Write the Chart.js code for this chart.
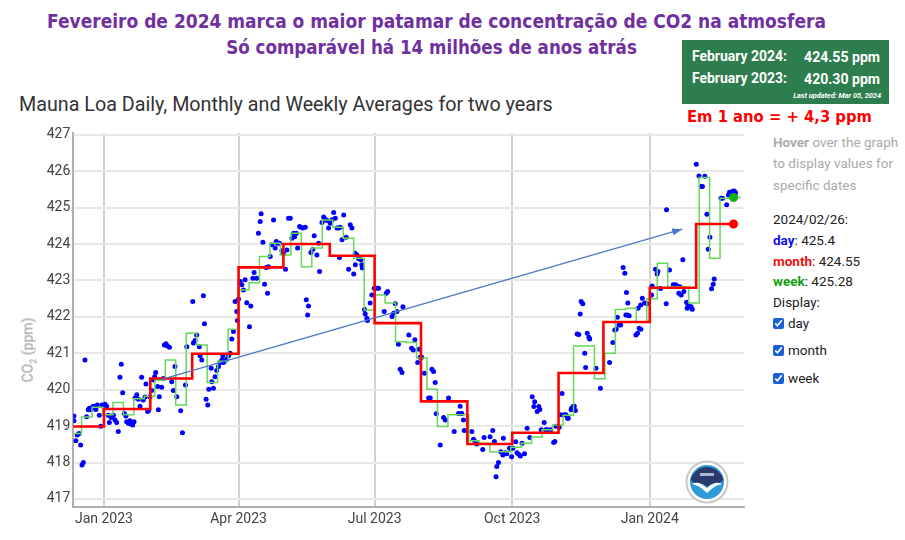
<!DOCTYPE html>
<html>
<head>
<meta charset="utf-8">
<script src="https://cdn.jsdelivr.net/npm/chart.js@4.4.1/dist/chart.umd.min.js"></script>
<style>
  body { margin: 0; width: 905px; height: 540px; background: #fff; position: relative; overflow: hidden; font-family: Roboto, sans-serif; }
  .t { position: absolute; white-space: nowrap; line-height: 1; }
  .title { color: #7030a0; font-weight: bold; font-family: "Liberation Sans Narrow", "DejaVu Sans Condensed", "Open Sans", sans-serif; font-size: 20px; }
  #box { position: absolute; left: 682px; top: 40px; width: 207px; height: 64px; background: #2e7d4e; }
  .boxtxt { color: #fff; font-weight: bold; font-family: "Liberation Sans Narrow", Roboto, sans-serif; font-size: 15px; }
  .panel { position: absolute; left: 773px; white-space: nowrap; font-size: 13.5px; color: #222; line-height: 1; }
  .panel.hint { color: #aaa; }
  .panel input { margin: 0 4px 0 0; width: 11px; height: 11px; accent-color: #1a5fd6; vertical-align: -1px; }
  #chart { position: absolute; left: 0; top: 120px; }
  #ylab { position: absolute; left: 29px; top: 350px; transform: translate(-50%, -50%) rotate(-90deg); color: #999; font-size: 14px; white-space: nowrap; }
  #noaa { position: absolute; left: 685px; top: 460px; }
</style>
</head>
<body>
<div class="t title" id="t1">Fevereiro de 2024 marca o maior patamar de concentração de CO2 na atmosfera</div>
<div class="t title" id="t2">Só comparável há 14 milhões de anos atrás</div>
<div class="t" id="sub" style="font-size:20px;color:#333;">Mauna Loa Daily, Monthly and Weekly Averages for two years</div>
<div id="box"></div>
<div class="t boxtxt" id="b1">February 2024:</div>
<div class="t boxtxt" id="b2">424.55 ppm</div>
<div class="t boxtxt" id="b3">February 2023:</div>
<div class="t boxtxt" id="b4">420.30 ppm</div>
<div class="t boxtxt" id="b5" style="font-style:italic;font-size:7px;">Last updated: Mar 05, 2024</div>
<div class="t title" id="red" style="color:#ff0000;">Em 1 ano = + 4,3 ppm</div>

<div class="panel hint" style="top:136px"><b>Hover</b> over the graph</div>
<div class="panel hint" style="top:157px">to display values for</div>
<div class="panel hint" style="top:179px">specific dates</div>
<div class="panel" style="top:213px">2024/02/26:</div>
<div class="panel" style="top:234px"><b style="color:#1010ee">day</b>: 425.4</div>
<div class="panel" style="top:255px"><b style="color:#ee1010">month</b>: 424.55</div>
<div class="panel" style="top:275px"><b style="color:#10a010">week</b>: 425.28</div>
<div class="panel" style="top:296px">Display:</div>
<div class="panel" style="top:317px"><input type="checkbox" checked>day</div>
<div class="panel" style="top:344px"><input type="checkbox" checked>month</div>
<div class="panel" style="top:372px"><input type="checkbox" checked>week</div>

<canvas id="chart" width="760" height="420"></canvas>
<div id="ylab">CO<sub style="font-size:9px">2</sub> (ppm)</div>

<svg id="noaa" width="44" height="44" viewBox="0 0 44 44">
  <circle cx="22" cy="22" r="20.5" fill="#fff" stroke="#c8c8c8" stroke-width="2"/>
  <circle cx="22" cy="22" r="17" fill="#2d9bd8"/>
  <path d="M5.5 20 A17 17 0 0 1 38.5 20 L32 25 Q27 21 22 27 Q17 21 12 25 Z" fill="#2a3a6c"/>
  <path d="M7 24 Q13 20 22 28 Q31 20 37 24 Q30 25 22 33 Q14 25 7 24 Z" fill="#fff"/>
  <rect x="15" y="13" width="14" height="3" fill="#cfd6e6" opacity="0.8"/>
</svg>

<script>
// Days are counted from 1 Jan 2023 (day 0)

// x axis ticks
const tickDays = [0, 90, 181, 273, 365];
const tickLabels = ['Jan 2023', 'Apr 2023', 'Jul 2023', 'Oct 2023', 'Jan 2024'];
const yTicks = [417, 418, 419, 420, 421, 422, 423, 424, 425, 426, 427];

// daily averages (blue dots)
const dailyDay = [
  -20.1, -20.1, -18.8, -17.9, -16.7, -15.6, -14.7, -13.8, -12.7, -11.6, -10.5, -9.8, -8.7, -7.8, -7.1, -6.3, -5.4, -4.5, -3.1, -2.2, -1.3,
  0.7, 1.8, 2.9, 3.6, 4.7, 5.6, 6.3, 7.4, 8.5, 9.6, 10.7, 11.6, 12.5, 13.6, 14.7, 15.2, 16.3, 17.4, 18.1, 19.2, 20.1, 20.8, 21.9, 23, 24.1,
  25.2, 26.3, 27.5, 28.1, 29.2, 29.9, 30.8, 31.9, 33, 33.9, 34.6, 35.9, 36.4, 37, 38.6, 39.7, 40.4, 41.5, 42.4, 43.8, 45.3, 46.4, 47.5, 48.7,
  51.3, 52.5, 54.5, 55.4, 59.4, 59.8, 60.9, 62, 63.8, 64.3, 65.4, 66.5, 67.2, 68.3, 69.4, 70.1, 71.7, 72.1, 73.2, 74.3, 75.4, 76.6, 77.7,
  78.8, 79.5, 79.9, 81, 82.1, 83.3, 84.4, 85.5, 86.6, 87.7, 88.8, 89.3, 90, 91.1, 92.2, 93.3, 94.4, 95.5, 97.3, 98.2, 99.6, 100.4, 102.2,
  103.3, 104.5, 105.1, 106.3, 107.4, 108.5, 109.4, 110, 111.2, 112.3, 113.4, 114.5, 115.2, 116.1, 117.4, 119, 120, 121.4, 122.3, 123.4,
  124.6, 125.7, 126.8, 127.5, 128.6, 129.5, 130.8, 131.7, 133, 134.6, 135.3, 136.2, 136.8, 138.4, 139.7, 140.6, 142.4, 143.5, 144.2, 145.8,
  146.9, 148, 149.1, 150.2, 151.3, 152.5, 153.6, 154.7, 155.8, 156.9, 157.5, 158, 159.2, 160.3, 162, 163.6, 164.7, 165.8, 167, 168, 168.1,
  169.2, 170.3, 171.8, 172.4, 172.8, 174.2, 174.7, 175.8, 176.2, 178, 179.1, 180.7, 182.5, 183.6, 187.4, 188.8, 189.7, 192.6, 193.7, 194.8,
  195.9, 196.9, 198.1, 199.3, 199.9, 203.9, 205.7, 206.9, 207.9, 209.8, 210.7, 211.4, 212.5, 214.3, 217.1, 218.2, 219.3, 220.4, 221.5,
  222.2, 224.9, 227.1, 228.2, 230.4, 234.2, 237.1, 238.2, 238.8, 239.3, 240.4, 240.9, 246, 247.1, 248.2, 249.3, 253.3, 254.2, 258.2, 260,
  261.1, 262.2, 262.7, 263.8, 265.4, 266.7, 267.1, 268.3, 269.4, 271.2, 272.1, 272.6, 273.4, 275.3, 276.2, 277.3, 278.5, 279.6, 281.2, 283,
  284.8, 286.4, 287.5, 288, 289.7, 290.8, 291.5, 292.4, 294.4, 295.5, 296.6, 298.8, 300.7, 301.5, 302.2, 304.4, 305.5, 306.3, 307.8, 308.9,
  310, 310.5, 312.4, 312.7, 313.7, 314.5, 315.3, 316.4, 317.5, 318.5, 319.1, 320.2, 321.5, 322.1, 323.2, 324.3, 324.8, 329, 332, 338.1,
  340.3, 341.6, 342.5, 343.3, 344.4, 345.5, 347.2, 348.3, 349, 349.4, 350.1, 350.3, 351.2, 355.7, 356.8, 357.2, 357.9, 358.9, 359, 360,
  361.5, 363.3, 366.2, 366.6, 368.8, 369.9, 370.4, 372.2, 376, 376.2, 378.2, 380.7, 382.2, 383.3, 384.4, 385.1, 386, 387.1, 387.8, 389.6,
  390, 390.5, 391.8, 392.7, 393.4, 396.1, 397.9, 399.5, 400.2, 401.8, 403.2, 404.1, 405.2, 406.3, 407.4, 408.1, 412.6, 413.7, 416.4,
  417.6, 418.3
];
const dailyPpm = [
  419.28, 419.15, 418.6, 418.76, 418.8, 418.48, 417.93, 418.0, 420.82, 419.26, 419.45, 419.49, 419.45, 419.52, 419.55, 419.54, 419.46, 419.58, 419.3, 419.0, 419.58,
  419.6, 419.55, 419.3, 419.1, 419.24, 419.26, 419.3, 419.17, 419.1, 418.85, 420.34, 420.7, 419.92, 419.35, 419.28, 419.12, 419.08, 419.15, 419.06, 419.03, 419.12, 419.77, 419.86, 419.74, 419.55,
  420.34, 419.72, 419.8, 420.16, 419.4, 419.43, 419.81, 419.98, 420.27, 420.36, 420.47, 420.09, 419.45, 419.81, 420.07, 420.31, 421.23, 421.26, 421.2, 421.17, 420.22, 419.98, 420.64, 419.81,
  419.42, 418.82, 420.13, 421.18, 422.42, 421.28, 421.35, 421.5, 421.18, 420.93, 420.82, 422.58, 421.81, 419.74, 419.58, 420.01, 420.59, 420.22, 420.04, 420.36, 420.53, 420.64, 420.75,
  420.82, 420.93, 420.75, 420.8, 420.84, 420.93, 421.0, 421.39, 421.6, 422.42, 422.15, 421.9, 422.49, 422.97, 422.88, 422.74, 423.02, 422.39, 421.73, 422.3, 423.06, 423.22, 423.06,
  424.3, 424.62, 424.83, 424.05, 422.9, 423.36, 422.65, 423.38, 423.66, 423.98, 424.66, 423.89, 424.07, 424.02, 424.02, 423.82, 423.75, 423.31, 423.84, 424.71,
  424.71, 424.16, 424.3, 424.2, 424.3, 423.89, 424.48, 424.46, 424.44, 424.46, 422.47, 422.05, 422.3, 423.77, 423.86, 424.23, 423.7, 424.02, 423.25, 424.59,
  424.74, 424.68, 424.65, 424.44, 424.57, 424.67, 424.87, 424.71, 424.44, 424.44, 423.63, 424.46, 424.12, 424.8, 424.19, 423.31, 424.53, 424.44, 423.18, 423.75, 423.43,
  423.7, 423.6, 423.57, 423.43, 423.34, 422.2, 422.08, 421.96, 421.9, 422.38, 422.6, 422.79, 422.79, 422.79, 422.15, 422.65, 422.7, 422.01, 422.1, 422.36,
  422.15, 421.25, 420.56, 420.47, 422.28, 421.5, 421.14, 421.09, 421.37, 420.75, 421.11, 420.89, 420.89, 420.45, 419.77, 419.77, 420.56, 420.5, 420.2,
  419.34, 418.48, 419.24, 419.17, 419.77, 418.85, 419.35, 419.55, 419.35, 419.35, 419.17, 418.88, 418.85, 418.64, 418.58, 418.51, 418.36, 418.69, 418.71, 418.88,
  418.58, 417.61, 417.89, 418.0, 418.3, 418.21, 418.67, 418.27, 418.24, 418.39, 418.39, 418.16, 418.39, 418.57, 418.27, 418.23, 418.18, 418.53, 418.24, 418.94,
  418.69, 419.81, 419.54, 419.67, 419.4, 419.54, 419.46, 418.9, 419.1, 418.9, 418.9, 418.9, 418.55, 418.58, 419.0, 418.97, 419.31, 419.9, 419.31, 419.31,
  419.22, 419.22, 419.45, 419.49, 419.54, 419.55, 419.43, 421.53, 421.52, 422.08, 422.42, 422.36, 421.0, 420.61, 421.55, 421.44, 421.39, 420.59, 420.04, 420.75,
  421.3, 421.64, 421.66, 421.99, 421.78, 421.78, 423.36, 423.2, 422.05, 422.67, 422.05, 422.38, 422.03, 421.5, 421.55, 422.24, 421.69, 422.33, 421.66, 422.51,
  422.38, 422.36, 422.6, 422.85, 423.31, 423.18, 423.25, 422.78, 422.36, 424.94, 423.29, 422.88, 422.88, 422.85, 422.65, 422.83, 422.6, 423.57, 422.7, 422.4,
  422.24, 422.33, 422.28, 422.28, 422.21, 426.19, 425.87, 425.58, 425.58, 425.86, 424.82, 423.86, 424.19, 422.77, 422.9, 423.04, 425.26, 425.26, 425.08,
  425.35, 425.42
];

// weekly averages (green step line), day = start of the week
const weekDay = [
  -22, -15, -8, -1, 6, 13, 20, 27, 34, 41, 48, 55, 62, 69, 76, 83, 90, 97, 104, 111, 118, 125, 132, 139, 146, 153, 160, 167, 174,
  181, 188, 195, 202, 209, 216, 223, 230, 237, 244, 251, 258, 265, 272, 279, 286, 293, 300, 307, 314, 321, 328, 335, 342, 349, 356,
  363, 370, 377, 384, 391, 398, 405, 412, 419, 426
];
const weekPpm = [
  418.8, 419.25, 419.52, 419.31, 419.65, 419.31, 419.75, 419.82, 420.27, 420.82, 419.58, 421.55, 421.23, 420.2, 420.78, 421.66, 422.74, 422.94, 423.66, 424.02, 423.7, 424.3, 423.38, 423.89, 424.66, 424.46, 424.16, 423.61, 422.19,
  422.6, 422.38, 421.32, 421.3, 420.87, 420.01, 418.99, 419.31, 419.31, 418.6, 418.53, 418.3, 418.3, 418.42, 418.53, 418.7, 418.9, 419.03, 419.3, 421.2, 421.2, 420.3, 421.0, 422.2, 422.24, 421.87,
  422.5, 423.47, 422.83, 422.83, 422.38, 425.83, 423.61, 425.26, 425.28, 425.28
];

// monthly averages (red step line), day = first of the month; last entry = 2024/02/26
const monthDay = [-31, 0, 31, 59, 90, 120, 151, 181, 212, 243, 273, 304, 334, 365, 396, 421];
const monthPpm = [418.99, 419.47, 420.31, 420.99, 423.36, 424.00, 423.68, 421.83, 419.68, 418.51, 418.82, 420.46, 421.86, 422.80, 424.55, 424.55];

// hovered date 2024/02/26
const hoverDay = 421;
const hoverDaily = 425.4;
const hoverMonth = 424.55;
const hoverWeek = 425.28;

// hand-drawn arrow: Feb 2023 level -> Feb 2024 level
const arrowDay = [37.5, 386.7];
const arrowPpm = [420.27, 424.41];

// ------------------------------------------------------------
// text helpers
function fitText(id, width) {
  const el = document.getElementById(id);
  const fs = parseFloat(getComputedStyle(el).fontSize);
  el.style.fontSize = (fs * width / el.getBoundingClientRect().width) + 'px';
  return el;
}
function place(id, x, cy, width, anchor) {
  const el = fitText(id, width);
  const r = el.getBoundingClientRect();
  let left = x;
  if (anchor === 'center') left = x - r.width / 2;
  if (anchor === 'right') left = x - r.width;
  el.style.left = left + 'px';
  el.style.top = (cy - r.height / 2) + 'px';
}

place('t1', 436.5, 21, 779, 'center');
place('t2', 431.5, 48, 411, 'center');
place('sub', 19, 105, 534, 'left');
place('b1', 692, 57, 95, 'left');
place('b2', 880, 57, 76, 'right');
place('b3', 692, 79, 95, 'left');
place('b4', 880, 79, 76, 'right');
place('b5', 881, 96, 88, 'right');
place('red', 687, 117, 185, 'left');

// ------------------------------------------------------------
// arrow head on the annotation line
const arrowHead = {
  id: 'arrowHead',
  afterDatasetsDraw(chart) {
    const meta = chart.getDatasetMeta(0);
    const p0 = meta.data[0], p1 = meta.data[1];
    const ang = Math.atan2(p1.y - p0.y, p1.x - p0.x);
    const ctx = chart.ctx;
    ctx.save();
    ctx.fillStyle = '#4a78c8';
    ctx.beginPath();
    ctx.moveTo(p1.x, p1.y);
    ctx.lineTo(p1.x - 10 * Math.cos(ang) + 3.5 * Math.sin(ang), p1.y - 10 * Math.sin(ang) - 3.5 * Math.cos(ang));
    ctx.lineTo(p1.x - 10 * Math.cos(ang) - 3.5 * Math.sin(ang), p1.y - 10 * Math.sin(ang) + 3.5 * Math.cos(ang));
    ctx.closePath();
    ctx.fill();
    ctx.restore();
  }
};

const pts = (xs, ys) => xs.map((x, i) => ({ x: x, y: ys[i] }));

new Chart(document.getElementById('chart'), {
  type: 'scatter',
  data: {
    datasets: [
      { // arrow
        data: pts(arrowDay, arrowPpm), showLine: true, borderColor: '#4a78c8', borderWidth: 1.2, pointRadius: 0
      },
      { data: [{ x: hoverDay, y: hoverWeek }], pointRadius: 4.5, backgroundColor: '#10b010', borderWidth: 0 },
      { data: [{ x: hoverDay, y: hoverMonth }], pointRadius: 4.5, backgroundColor: '#ff0000', borderWidth: 0 },
      { data: [{ x: hoverDay, y: hoverDaily }], pointRadius: 4.5, backgroundColor: '#0000ff', borderWidth: 0 },
      { // monthly
        data: pts(monthDay, monthPpm), showLine: true, stepped: true, borderColor: '#ff0000', borderWidth: 2.6, pointRadius: 0
      },
      { // weekly
        data: pts(weekDay, weekPpm), showLine: true, stepped: true, borderColor: '#66d85a', borderWidth: 1.5, pointRadius: 0
      },
      { // daily
        data: pts(dailyDay, dailyPpm), pointRadius: 2.5, backgroundColor: '#0000ff', borderWidth: 0
      }
    ]
  },
  plugins: [arrowHead],
  options: {
    responsive: false,
    animation: false,
    layout: { padding: { top: 13, right: 16, left: 0, bottom: 0 } },
    plugins: { legend: { display: false }, tooltip: { enabled: false } },
    scales: {
      x: {
        type: 'linear', min: -20.5, max: 428,
        afterBuildTicks: s => { s.ticks = tickDays.map(v => ({ value: v })); },
        afterFit: s => { s.height = 33; },
        ticks: { autoSkip: false, maxRotation: 0, padding: 4, color: '#444', font: { family: 'Roboto', size: 14 },
                 callback: (v, i) => tickLabels[i] },
        grid: { color: '#d2d2d2', lineWidth: 2, drawTicks: false },
        border: { color: '#b0b0b0', width: 2 }
      },
      y: {
        min: 416.78, max: 427.05,
        afterBuildTicks: s => { s.ticks = yTicks.map(v => ({ value: v })); },
        afterFit: s => { s.width = 73.3; },
        ticks: { padding: 3, color: '#444', font: { family: 'Roboto', size: 14 } },
        grid: { color: '#e8e8e8', lineWidth: 2, drawTicks: false },
        border: { color: '#b0b0b0', width: 2 }
      }
    }
  }
});
</script>
</body>
</html>
